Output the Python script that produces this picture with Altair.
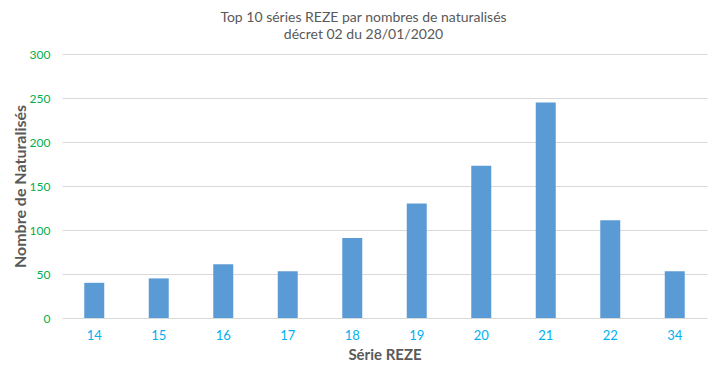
import altair as alt
import pandas as pd

series = ["14", "15", "16", "17", "18", "19", "20", "21", "22", "34"]
values = [40, 45, 61, 53, 91, 130, 173, 245, 111, 53]

df = pd.DataFrame({"serie": series, "n": values})

FONT = "Lato"

chart = (
    alt.Chart(df)
    .mark_bar(color="#5B9BD5")
    .encode(
        x=alt.X(
            "serie:N",
            sort=series,
            title="Série REZE",
            scale=alt.Scale(paddingInner=0.69, paddingOuter=0.345),
            axis=alt.Axis(
                labelAngle=0,
                labelColor="#00B0F0",
                labelFontSize=13,
                labelFont=FONT,
                labelPadding=11,
                ticks=False,
                domain=False,
                titleFont=FONT,
                titleFontSize=15,
                titleFontWeight="bold",
                titleColor="#595959",
                titlePadding=5,
            ),
        ),
        y=alt.Y(
            "n:Q",
            title="Nombre de Naturalisés",
            scale=alt.Scale(domain=[0, 300]),
            axis=alt.Axis(
                values=[0, 50, 100, 150, 200, 250, 300],
                labelColor="#00B050",
                labelFontSize=12,
                labelFont=FONT,
                labelPadding=12,
                ticks=False,
                domain=False,
                grid=True,
                gridColor="#D9D9D9",
                gridWidth=1,
                titleFont=FONT,
                titleFontSize=16,
                titleFontWeight="bold",
                titleColor="#595959",
                titlePadding=1,
            ),
        ),
    )
    .properties(
        width=645,
        height=264,
        autosize=alt.AutoSizeParams(type="none"),
        padding={"left": 54, "top": 46, "right": 12, "bottom": 45},
        title=alt.TitleParams(
            text=["Top 10 séries REZE par nombres de naturalisés", "décret 02 du 28/01/2020"],
            font=FONT,
            fontSize=14,
            fontWeight="normal",
            color="#595959",
            anchor="middle",
            dx=-21,
            offset=6,
            lineHeight=17,
        ),
    )
    .configure_view(stroke=None)
)

chart.save("out.html", embed_options={"renderer": "svg", "actions": False})
